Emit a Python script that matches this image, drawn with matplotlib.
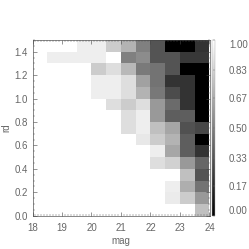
import numpy as np
import matplotlib
matplotlib.use('Agg')
import matplotlib.pyplot as plt

plt.rcParams['font.family'] = ['Liberation Sans', 'DejaVu Sans']

mag_edges = [18, 18.5, 19, 19.5, 20, 20.5, 21, 21.5, 22, 22.5, 23, 23.5, 24]
rd_edges = [0.0, 0.1, 0.2, 0.3, 0.4, 0.5, 0.6, 0.7, 0.8, 0.9, 1.0, 1.1, 1.2, 1.3, 1.4, 1.5]
cbar_ticks = [0.0, 0.17, 0.33, 0.50, 0.67, 0.83, 1.00]

# one row per rd bin, bottom row first
row_00 = [1, 1, 1, 1, 1, 1, 1, 1, 1, 1, 1, .75]
row_01 = [1, 1, 1, 1, 1, 1, 1, 1, 1, .92, .80, .60]
row_02 = [1, 1, 1, 1, 1, 1, 1, 1, 1, .93, .68, .45]
row_03 = [1, 1, 1, 1, 1, 1, 1, 1, 1, 1, .75, .33]
row_04 = [1, 1, 1, 1, 1, 1, 1, 1, .87, .82, .60, .40]
row_05 = [1, 1, 1, 1, 1, 1, 1, 1, .93, .65, .37, .20]
row_06 = [1, 1, 1, 1, 1, 1, 1, .91, .80, .70, .37, 0]
row_07 = [1, 1, 1, 1, 1, 1, .87, .93, .75, .65, .32, .28]
row_08 = [1, 1, 1, 1, 1, 1, .87, .93, .60, .37, .37, 0]
row_09 = [1, 1, 1, 1, 1, .87, .80, .87, .60, .42, .20, 0]
row_10 = [1, 1, 1, 1, .93, .93, .87, .70, .47, .30, .20, 0]
row_11 = [1, 1, 1, 1, .93, .93, .87, .63, .45, .20, .20, 0]
row_12 = [1, 1, 1, 1, .80, .87, .72, .48, .45, .33, 0, 0]
row_13 = [1, .93, .93, .93, .93, 1, .50, .55, .33, .33, .22, .22]
row_14 = [1, 1, 1, .93, .93, .80, .70, .50, .33, 0, 0, .20]

grid = np.array([row_00, row_01, row_02, row_03, row_04, row_05, row_06, row_07,
                 row_08, row_09, row_10, row_11, row_12, row_13, row_14])

W = 249.0
tc = '#666666'

fig = plt.figure(figsize=(2.49, 2.49), dpi=100)
ax = fig.add_axes([32.5 / W, 1 - 215.7 / W, 177 / W, 175.7 / W])
mesh = ax.pcolormesh(mag_edges, rd_edges, grid, cmap='gray', vmin=0, vmax=1)
ax.set_xlim(18, 24)
ax.set_ylim(0, 1.5)
ax.set_xticks(range(18, 25))
ax.set_xticks(np.arange(18, 24.01, 0.1), minor=True)
ax.set_yticks(np.arange(0, 1.41, 0.2))
ax.set_yticks(np.arange(0, 1.51, 0.05), minor=True)
ax.yaxis.set_major_formatter('{x:.1f}')
ax.tick_params(which='major', direction='in', top=True, right=True, length=2.8, width=0.4,
               labelsize=7, labelcolor=tc, color='#444444')
ax.tick_params(axis='x', which='major', pad=5.5)
ax.tick_params(axis='y', which='major', pad=3.5)
ax.tick_params(which='minor', direction='in', top=True, right=True, length=1.2, width=0.3,
               color='#555555')
for s in ax.spines.values():
    s.set_linewidth(0.45)
    s.set_color('#444444')
ax.set_xlabel('mag', fontsize=7, color=tc, labelpad=2)
ax.set_ylabel('rd', fontsize=7, color=tc, labelpad=2)

cax = fig.add_axes([212 / W, 1 - 215.7 / W, 3 / W, 175.7 / W])
cb = fig.colorbar(mesh, cax=cax, ticks=cbar_ticks)
cb.ax.set_yticklabels(['%.2f' % t for t in cbar_ticks])
cb.ax.tick_params(length=1.2, width=0.3, direction='in', labelsize=7, labelcolor=tc,
                  color='#666666', pad=10)
labels = cb.ax.get_yticklabels()
labels[0].set_va('bottom')
labels[-1].set_va('top')
cb.outline.set_linewidth(0.3)
cb.outline.set_edgecolor('#aaaaaa')

fig.savefig('out.png', dpi=100)
